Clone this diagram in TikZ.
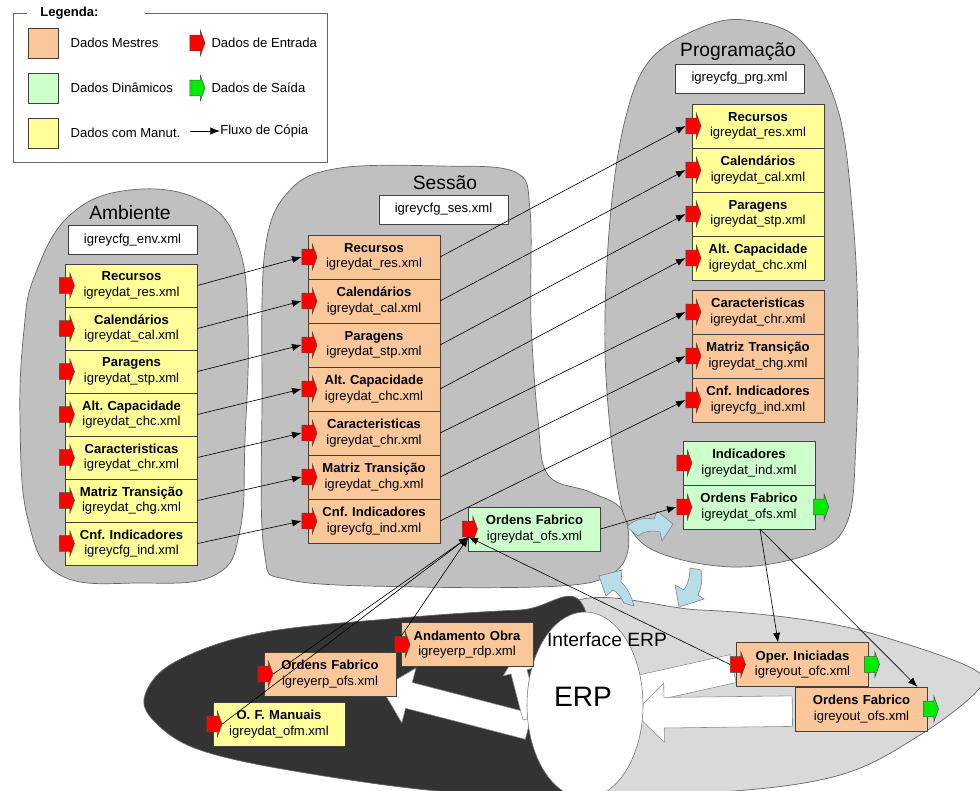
\documentclass[tikz,border=0pt]{standalone}
\usepackage{fontspec}
\setmainfont{Liberation Sans}
\usetikzlibrary{arrows.meta,%
                shapes,positioning}

\definecolor{mestre}{RGB}{250,199,155}
\definecolor{dinamico}{RGB}{204,255,204}
\definecolor{manut}{RGB}{255,255,153}
\definecolor{nuvem}{RGB}{192,192,192}
\definecolor{nuvemescura}{RGB}{51,51,51}
\definecolor{nuvemclara}{RGB}{217,217,217}
\definecolor{entrada}{RGB}{255,0,0}
\definecolor{saida}{RGB}{0,235,0}
\definecolor{ciclo}{RGB}{183,221,232}

\newcommand{\dat}[2]{\textbf{#1}\\#2}
\frenchspacing

\begin{document}
\begin{tikzpicture}[x=0.25mm, y=-0.25mm]
  \tikzset{DataBox/.style = {draw           = black!75,
                             minimum width  = 33mm,
                             minimum height = 11mm,
                             text width     = 32mm,
                             align          = center,
                             inner sep      = 0pt,
                             outer sep      = 0pt,
                             font           = \fontsize{9.3}{11}\selectfont},
           MestreBox/.style = {DataBox, fill=mestre},
           DinBox/.style    = {DataBox, fill=dinamico},
           ManutBox/.style  = {DataBox, fill=manut},
           CfgBox/.style    = {draw=black!75, fill=white, minimum width=32.25mm, minimum height=7.25mm,
                               inner sep=0pt, font=\fontsize{9.3}{11}\selectfont},
           TagStyle/.style  = {single arrow, draw=black!70, line width=0.3pt, inner xsep=0pt, inner ysep=1.9mm,
                               minimum height=3.8mm, single arrow head extend=1.3mm,
                               single arrow tip angle=140},
           InTag/.style     = {TagStyle, fill=entrada},
           OutTag/.style    = {TagStyle, fill=saida},
           Title/.style     = {font=\fontsize{13.7}{16}\selectfont, inner sep=0pt},
           Txt/.style       = {font=\fontsize{9.3}{11}\selectfont, inner sep=0pt},
           Nuvem/.style     = {fill=nuvem, draw=black!60, line width=0.5pt},
           Copy/.style      = {-{Latex[length=2.4mm, width=1.8mm]}, line width=0.45pt},
           BigArrow/.style  = {single arrow, fill=white, draw=black!45, inner xsep=0pt, single arrow tip angle=90},
           Ciclo/.style     = {fill=ciclo, draw=black!50, line width=0.4pt}}
  \useasboundingbox (0,0) rectangle (980,790);
  \clip (0,0) rectangle (980,790);

  %%% NUVENS %%%
  \draw[Nuvem] plot[smooth cycle, tension=0.7] coordinates {(35,275) (70,215) (130,190) (200,200) (238,245)
      (248,330) (245,440) (240,530) (215,575) (140,583) (60,575) (28,520) (20,420) (24,330)};
  \draw[Nuvem] plot[smooth cycle, tension=0.6] coordinates {(265,250) (290,190) (340,168) (440,166) (515,172)
      (530,210) (531,320) (538,420) (548,475) (590,492) (622,510) (628,550) (610,575) (560,586) (420,587)
      (290,580) (264,550) (262,400)};
  \draw[Nuvem] plot[smooth cycle, tension=0.6] coordinates {(650,60) (700,28) (745,20) (800,40) (838,110)
      (853,220) (858,330) (856,440) (848,520) (815,552) (740,567) (665,555) (630,528) (615,470) (605,350)
      (610,220) (625,120)};
  \draw[Nuvem, fill=nuvemclara] plot[smooth cycle, tension=0.6] coordinates {(560,612) (700,610) (820,622)
      (900,642) (975,670) (978,690) (920,735) (840,775) (720,792) (560,794)};
  \draw[Nuvem, fill=nuvemescura] plot[smooth cycle, tension=0.6] coordinates {(145,695) (175,662) (260,633)
      (400,618) (520,610) (585,610) (590,794) (450,792) (300,772) (200,750) (155,722)};

  %%% CICLO %%%
  \draw[Ciclo] (627,527) .. controls (633,520) and (643,517) .. (654,519) -- (657,511) -- (673,524)
      -- (662,541) -- (660,532) .. controls (652,530) and (644,531) .. (638,536) -- cycle;
  \draw[Ciclo] (690,568) -- (701,570) .. controls (703,580) and (701,589) .. (698,595) -- (704,599)
      -- (679,607) -- (675,585) -- (684,590) .. controls (688,584) and (690,576) .. (690,568) -- cycle;
  \draw[Ciclo] (624,603) -- (634,606) .. controls (631,595) and (627,587) .. (621,582) -- (622,570)
      -- (599,576) -- (606,596) -- (613,590) .. controls (618,593) and (621,597) .. (624,603) -- cycle;

  %%% INTERFACE ERP %%%
  \node[BigArrow, minimum height=38mm, inner ysep=3.25mm, single arrow head extend=3.75mm,
        rotate=165.5] (wOfs) at (461.5,709) {};
  \node[BigArrow, minimum height=16mm, inner ysep=2mm, single arrow head extend=2mm,
        rotate=104.5] (wRdp) at (524,691) {};
  \node[BigArrow, minimum height=32mm, inner ysep=3.5mm, single arrow head extend=3.5mm,
        rotate=192.6] (wOfc) at (677.5,681) {};
  \node[BigArrow, minimum height=39.5mm, inner ysep=3.75mm, single arrow head extend=3.6mm,
        rotate=180.7] (wOut) at (721,712) {};
  \node[ellipse, draw=black!55, fill=white, minimum width=29mm, minimum height=46.5mm] (erp) at (585,705) {};
  \node[font=\fontsize{20}{24}\selectfont, inner sep=0pt] (erpTxt) at (583,697) {ERP};
  \node[Title] (tErp) at (607,640) {Interface ERP};

  %%% LEGENDA %%%
  \draw[black!60] (27,13) -- (13,13) -- (13,162) -- (327,162) -- (327,13) -- (145,13);
  \node[Txt, anchor=west] (legTitle) at (40,13) {\textbf{Legenda:}};
  \node[draw=black!75, fill=mestre, minimum size=7.5mm, inner sep=0pt] (legMestre) at (43,43) {};
  \node[draw=black!75, fill=dinamico, minimum size=7.5mm, inner sep=0pt] (legDin) at (43,88) {};
  \node[draw=black!75, fill=manut, minimum size=7.5mm, inner sep=0pt] (legManut) at (43,133) {};
  \node[Txt, right=3mm of legMestre] (legMestreTxt) {Dados Mestres};
  \node[Txt, right=3mm of legDin] (legDinTxt) {Dados Dinâmicos};
  \node[Txt, right=3mm of legManut] (legManutTxt) {Dados com Manut.};
  \node[InTag] (legIn) at (196,43) {};
  \node[OutTag] (legOut) at (196,88) {};
  \node[Txt, right=1.5mm of legIn] (legInTxt) {Dados de Entrada};
  \node[Txt, right=1.5mm of legOut] (legOutTxt) {Dados de Saída};
  \coordinate (legFrom) at (190,131);
  \node[Txt, anchor=west] (legFluxo) at (220,131) {Fluxo de Cópia};
  \draw[Copy] (legFrom) -- (legFluxo.west);

  %%% AMBIENTE %%%
  \node[Title] (tAmb) at (130,213) {Ambiente};
  \node[CfgBox] (cAmb) at (132.5,240) {igreycfg\_env.xml};
  \begin{scope}[DataBox/.append style={minimum height=10.75mm}]
    \node[ManutBox] (amb1) at (131.5,285.5) {\dat{Recursos}{igreydat\_res.xml}};
    \node[ManutBox, below=0pt of amb1] (amb2) {\dat{Calendários}{igreydat\_cal.xml}};
    \node[ManutBox, below=0pt of amb2] (amb3) {\dat{Paragens}{igreydat\_stp.xml}};
    \node[ManutBox, below=0pt of amb3] (amb4) {\dat{Alt. Capacidade}{igreydat\_chc.xml}};
    \node[ManutBox, below=0pt of amb4] (amb5) {\dat{Caracteristicas}{igreydat\_chr.xml}};
    \node[ManutBox, below=0pt of amb5] (amb6) {\dat{Matriz Transição}{igreydat\_chg.xml}};
    \node[ManutBox, below=0pt of amb6] (amb7) {\dat{Cnf. Indicadores}{igreycfg\_ind.xml}};
  \end{scope}
  \node[InTag] (amb1in) at (amb1.west) {};
  \node[InTag] (amb2in) at (amb2.west) {};
  \node[InTag] (amb3in) at (amb3.west) {};
  \node[InTag] (amb4in) at (amb4.west) {};
  \node[InTag] (amb5in) at (amb5.west) {};
  \node[InTag] (amb6in) at (amb6.west) {};
  \node[InTag] (amb7in) at (amb7.west) {};

  %%% SESSAO %%%
  \node[Title] (tSes) at (445,183) {Sessão};
  \node[CfgBox] (cSes) at (443.5,209.5) {igreycfg\_ses.xml};
  \node[MestreBox] (ses1) at (374,257) {\dat{Recursos}{igreydat\_res.xml}};
  \node[MestreBox, below=0pt of ses1] (ses2) {\dat{Calendários}{igreydat\_cal.xml}};
  \node[MestreBox, below=0pt of ses2] (ses3) {\dat{Paragens}{igreydat\_stp.xml}};
  \node[MestreBox, below=0pt of ses3] (ses4) {\dat{Alt. Capacidade}{igreydat\_chc.xml}};
  \node[MestreBox, below=0pt of ses4] (ses5) {\dat{Caracteristicas}{igreydat\_chr.xml}};
  \node[MestreBox, below=0pt of ses5] (ses6) {\dat{Matriz Transição}{igreydat\_chg.xml}};
  \node[MestreBox, below=0pt of ses6] (ses7) {\dat{Cnf. Indicadores}{igreycfg\_ind.xml}};
  \node[DinBox] (sofs) at (534.5,529) {\dat{Ordens Fabrico}{igreydat\_ofs.xml}};
  \node[InTag] (ses1in) at (ses1.west) {};
  \node[InTag] (ses2in) at (ses2.west) {};
  \node[InTag] (ses3in) at (ses3.west) {};
  \node[InTag] (ses4in) at (ses4.west) {};
  \node[InTag] (ses5in) at (ses5.west) {};
  \node[InTag] (ses6in) at (ses6.west) {};
  \node[InTag] (ses7in) at (ses7.west) {};
  \node[InTag] (sofsin) at (sofs.west) {};

  %%% PROGRAMACAO %%%
  \node[Title] (tPrg) at (738,52) {Programação};
  \node[CfgBox] (cPrg) at (739.5,78.5) {igreycfg\_prg.xml};
  \node[ManutBox] (prg1) at (758,126) {\dat{Recursos}{igreydat\_res.xml}};
  \node[ManutBox, below=0pt of prg1] (prg2) {\dat{Calendários}{igreydat\_cal.xml}};
  \node[ManutBox, below=0pt of prg2] (prg3) {\dat{Paragens}{igreydat\_stp.xml}};
  \node[ManutBox, below=0pt of prg3] (prg4) {\dat{Alt. Capacidade}{igreydat\_chc.xml}};
  \node[MestreBox, below=2.5mm of prg4] (prg5) {\dat{Caracteristicas}{igreydat\_chr.xml}};
  \node[MestreBox, below=0pt of prg5] (prg6) {\dat{Matriz Transição}{igreydat\_chg.xml}};
  \node[MestreBox, below=0pt of prg6] (prg7) {\dat{Cnf. Indicadores}{igreycfg\_ind.xml}};
  \node[DinBox] (pind) at (749,463) {\dat{Indicadores}{igreydat\_ind.xml}};
  \node[DinBox, below=0pt of pind] (pofs) {\dat{Ordens Fabrico}{igreydat\_ofs.xml}};
  \node[InTag] (prg1in) at (prg1.west) {};
  \node[InTag] (prg2in) at (prg2.west) {};
  \node[InTag] (prg3in) at (prg3.west) {};
  \node[InTag] (prg4in) at (prg4.west) {};
  \node[InTag] (prg5in) at (prg5.west) {};
  \node[InTag] (prg6in) at (prg6.west) {};
  \node[InTag] (prg7in) at (prg7.west) {};
  \node[InTag] (pindin) at (pind.west) {};
  \node[InTag] (pofsin) at (pofs.west) {};
  \node[OutTag] (pofsout) at ([xshift=1.2mm]pofs.east) {};

  %%% ERP %%%
  \node[MestreBox] (andam) at (467,644.5) {\dat{Andamento Obra}{igreyerp\_rdp.xml}};
  \node[MestreBox] (oferp) at (330,674) {\dat{Ordens Fabrico}{igreyerp\_ofs.xml}};
  \node[ManutBox] (ofm) at (279,724) {\dat{O. F. Manuais}{igreydat\_ofm.xml}};
  \node[MestreBox] (oper) at (802.5,664.5) {\dat{Oper. Iniciadas}{igreyout\_ofc.xml}};
  \node[MestreBox] (ofout) at (861.5,709) {\dat{Ordens Fabrico}{igreyout\_ofs.xml}};
  \node[InTag] (andamin) at (andam.west) {};
  \node[InTag] (oferpin) at (oferp.west) {};
  \node[InTag] (ofmin) at (ofm.west) {};
  \node[InTag] (operin) at (oper.west) {};
  \node[OutTag] (operout) at ([xshift=0.5mm]oper.east) {};
  \node[OutTag] (ofoutout) at ([xshift=0.5mm]ofout.east) {};

  %%% FLUXO DE COPIA %%%
  \draw[Copy] (amb1.east) -- (ses1in.west);
  \draw[Copy] (amb2.east) -- (ses2in.west);
  \draw[Copy] (amb3.east) -- (ses3in.west);
  \draw[Copy] (amb4.east) -- (ses4in.west);
  \draw[Copy] (amb5.east) -- (ses5in.west);
  \draw[Copy] (amb6.east) -- (ses6in.west);
  \draw[Copy] (amb7.east) -- (ses7in.west);
  %
  \draw[Copy] (ses1.east) -- (prg1in.west);
  \draw[Copy] (ses2.east) -- (prg2in.west);
  \draw[Copy] (ses3.east) -- (prg3in.west);
  \draw[Copy] (ses4.east) -- (prg4in.west);
  \draw[Copy] (ses5.east) -- (prg5in.west);
  \draw[Copy] (ses6.east) -- (prg6in.west);
  \draw[Copy] (ses7.east) -- (prg7in.west);
  \draw[Copy] (sofs.east) -- (pofsin.west);
  %
  \draw[Copy] (ofmin.east) -- (sofsin.south);
  \draw[Copy] (oferpin.east) -- (sofsin.south);
  \draw[Copy] (andamin.north) -- (sofsin.south);
  \draw[Copy] (operin.west) -- (sofsin.south);
  \draw[Copy] ([xshift=2.75mm]pofs.south) -- ([xshift=-6.1mm]oper.north);
  \draw[Copy] ([xshift=2.75mm]pofs.south) -- ([xshift=14mm]ofout.north);
\end{tikzpicture}
\end{document}
